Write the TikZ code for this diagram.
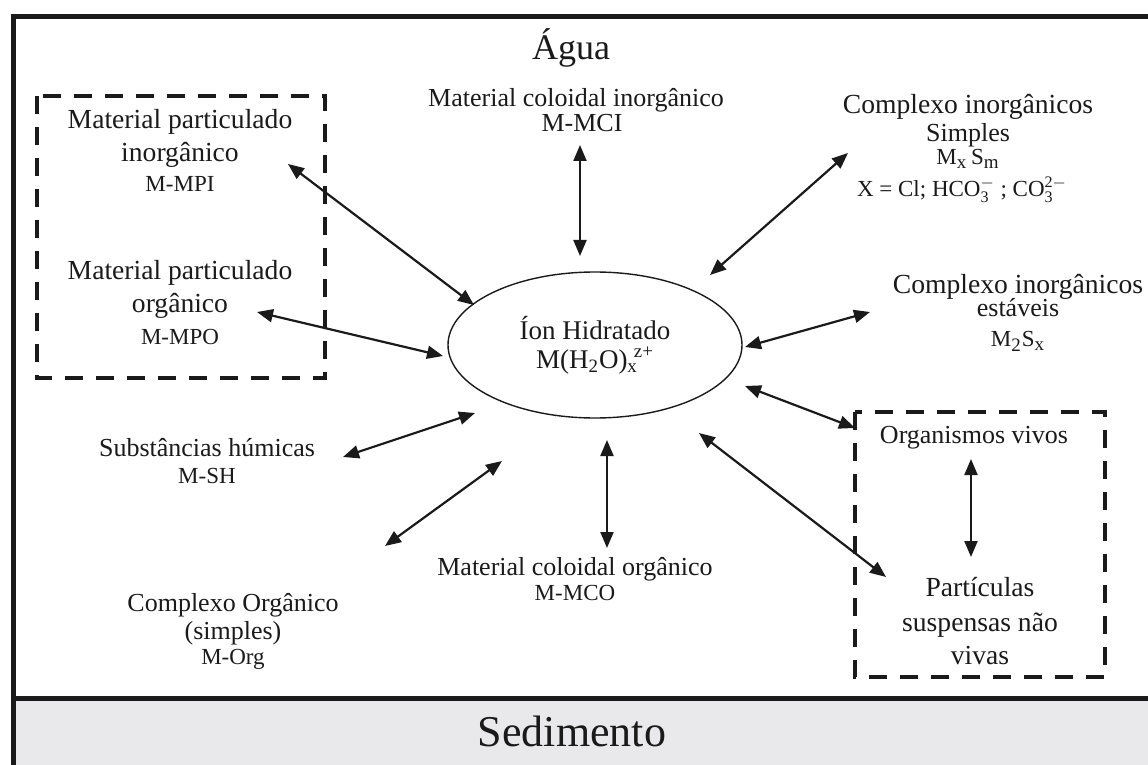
\documentclass[tikz,border=0pt]{standalone}
\usepackage{fontspec}
\setmainfont{Liberation Serif}
\usetikzlibrary{arrows.meta,shapes.geometric}
\definecolor{ink}{HTML}{1A1A1A}
\definecolor{sedgray}{HTML}{E9E9EC}
\newcommand\stk[2]{$^{\mathrm{#1}}_{\mathrm{#2}}$}
\newcommand\sbs[1]{\textsubscript{\fontsize{9.5}{10}\selectfont #1}}
\begin{document}
\begin{tikzpicture}[x=0.5pt,y=-0.5pt,
  txt/.style={anchor=base,inner sep=0pt,text=ink},
  big/.style={txt,font=\fontsize{13}{15}\selectfont},
  bigl/.style={txt,font=\fontsize{13.8}{15}\selectfont},
  sml/.style={txt,font=\fontsize{11.5}{13}\selectfont},
  arr/.style={{Triangle[length=8pt,width=6.5pt]}-{Triangle[length=8pt,width=6.5pt]},line width=1.1pt,draw=ink},
  dbox/.style={draw=ink,line width=2pt,dash pattern=on 9pt off 6.5pt},
  frame/.style={draw=ink,line width=2.5pt}]
\useasboundingbox (0,0) rectangle (1148,765);
% frame and sediment
\fill[sedgray] (13,698) rectangle (1148,765);
\draw[frame] (13,765) -- (13,17) -- (1148,17);
\draw[frame] (13,698) -- (1148,698);
\node[txt,font=\fontsize{18}{20}\selectfont] (agua) at (571,60) {Água};
\node[txt,font=\fontsize{22}{24}\selectfont] (sed) at (572,746) {Sedimento};
% dashed boxes
\draw[dbox] (37,96) rectangle (325,378);
\draw[dbox] (855,412) rectangle (1105,677);
% ion
\node[ellipse,draw=ink,line width=0.7pt,minimum width=147pt,minimum height=73pt,inner sep=0pt,
  align=center,text=ink,font=\fontsize{13.5}{14.5}\selectfont] (ion) at (595,345)
  {Íon Hidratado\\M(H\textsubscript{2}O)\textsubscript{x}\kern-0.15em\textsuperscript{z+}};
% labels
\node[big] (mci1) at (576,107) {Material coloidal inorgânico};
\node[big] (mci2) at (582,132) {M-MCI};
\node[bigl] (mpi1) at (180,129) {Material particulado};
\node[bigl] (mpi2) at (180,162) {inorgânico};
\node[sml] (mpi3) at (180,192) {M-MPI};
\node[bigl] (mpo1) at (180,279) {Material particulado};
\node[bigl] (mpo2) at (180,313) {orgânico};
\node[sml] (mpo3) at (180,344) {M-MPO};
\node[big] (sh1) at (207,456) {Substâncias húmicas};
\node[sml] (sh2) at (207,483) {M-SH};
\node[big] (co1) at (233,611) {Complexo Orgânico};
\node[big] (co2) at (233,639) {(simples)};
\node[sml] (co3) at (233,664) {M-Org};
\node[big] (mco1) at (575,575) {Material coloidal orgânico};
\node[sml] (mco2) at (575,600) {M-MCO};
\node[bigl] (cs1) at (968,114) {Complexo inorgânicos};
\node[big] (cs2) at (968,142) {Simples};
\node[sml] (cs3) at (968,165) {M\sbs{x}\,S\sbs{m}};
\node[sml] (cs4) at (962,197) {X = Cl; HCO\stk{-}{3} ; CO\stk{2-}{3}};
\node[bigl] (ce1) at (1018,293) {Complexo inorgânicos};
\node[big] (ce2) at (1018,317) {estáveis};
\node[sml] (ce3) at (1018,347) {M\sbs{2}S\sbs{x}};
\node[big] (ov) at (974,444) {Organismos vivos};
\node[bigl] (ps1) at (980,596) {Partículas};
\node[bigl] (ps2) at (980,631) {suspensas não};
\node[bigl] (ps3) at (980,664) {vivas};
% arrow end points
\coordinate (aMCIt) at (580,145);   \coordinate (aMCIb) at (580,256);
\coordinate (aCSo)  at (848,153);   \coordinate (aCSi)  at (710,275);
\coordinate (aCEo)  at (870,312);   \coordinate (aCEi)  at (745,347);
\coordinate (aOVo)  at (855,428);   \coordinate (aOVi)  at (745,386);
\coordinate (aPSo)  at (886,577);   \coordinate (aPSi)  at (699,433);
\coordinate (aMCOt) at (607,440);   \coordinate (aMCOb) at (607,548);
\coordinate (aCOo)  at (385,546);   \coordinate (aCOi)  at (502,461);
\coordinate (aSHo)  at (343,457);   \coordinate (aSHi)  at (475,413);
\coordinate (aMPOo) at (257,312);   \coordinate (aMPOi) at (443,356);
\coordinate (aMPIo) at (288,164);   \coordinate (aMPIi) at (474,305);
\coordinate (aINt)  at (971,459);   \coordinate (aINb)  at (971,557);
% arrows
\draw[arr] (aMCIt) -- (aMCIb);
\draw[arr] (aCSo) -- (aCSi);
\draw[arr] (aCEo) -- (aCEi);
\draw[arr] (aOVo) -- (aOVi);
\draw[arr] (aPSo) -- (aPSi);
\draw[arr] (aMCOt) -- (aMCOb);
\draw[arr] (aCOo) -- (aCOi);
\draw[arr] (aSHo) -- (aSHi);
\draw[arr] (aMPOo) -- (aMPOi);
\draw[arr] (aMPIo) -- (aMPIi);
\draw[arr] (aINt) -- (aINb);
\end{tikzpicture}
\end{document}
